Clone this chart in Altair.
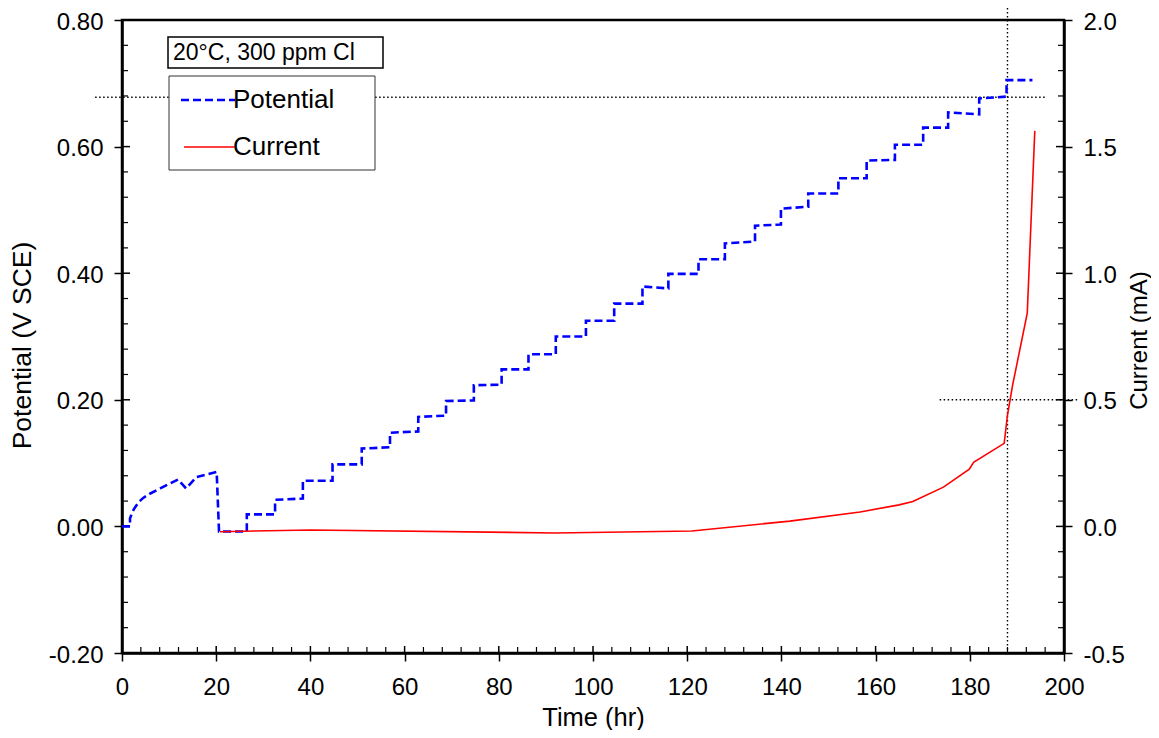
import altair as alt
import pandas as pd

# ---------------- data ----------------
# Potential (V SCE): initial free-corrosion curve, then stepwise ramp
pot_t0 = [0.0, 1.7, 1.7, 2.5, 3.5, 4.5, 6.0, 8.1, 10.0, 11.9, 13.6, 15.8, 18.0, 20.1, 20.6]
pot_v0 = [0.0, 0.0, 0.013, 0.027, 0.038, 0.045, 0.052, 0.060, 0.067, 0.074, 0.060, 0.078, 0.082, 0.086, -0.008]

step_t = [20.6, 26.5, 32.5, 38.4, 44.7, 50.9, 56.9, 62.9, 68.8, 74.7, 80.6, 86.3, 92.1, 98.5,
          104.5, 110.5, 116.0, 122.4, 128.0, 134.4, 139.9, 145.7, 152.1, 158.1, 164.1,
          170.1, 175.4, 182.0, 187.8]
step_end_t = step_t[1:] + [193.3]
step_lvl_start = [-0.008, 0.019, 0.042, 0.072, 0.098, 0.123, 0.148, 0.173, 0.198, 0.223, 0.248,
                  0.272, 0.300, 0.325, 0.352, 0.379, 0.399, 0.422, 0.447, 0.475, 0.502, 0.526,
                  0.550, 0.578, 0.603, 0.630, 0.654, 0.676, 0.705]
step_lvl_end = [-0.008, 0.019, 0.044, 0.072, 0.098, 0.125, 0.150, 0.175, 0.199, 0.224, 0.248,
                0.272, 0.300, 0.325, 0.352, 0.376, 0.399, 0.422, 0.450, 0.477, 0.505, 0.526,
                0.550, 0.579, 0.603, 0.630, 0.651, 0.679, 0.705]

# Current (mA)
cur_t = [20.8, 40.0, 92.0, 121.0, 141.8, 156.7, 165.0, 167.9, 174.4, 179.9, 180.8, 187.3,
         188.0, 189.1, 192.2, 193.8]
cur_v = [-0.021, -0.014, -0.026, -0.018, 0.021, 0.057, 0.085, 0.098, 0.155, 0.226, 0.253,
         0.328, 0.44, 0.559, 0.842, 1.562]

# reference (dotted) lines
hline_pot = 0.678
hline_pot_t = [-5.7, 196.0]
vline_t = 188.0
vline_pot = [0.819, -0.2]
hline_cur = 0.5
hline_cur_t = [173.6, 203.0]

# axis ticks
x_major = [0, 20, 40, 60, 80, 100, 120, 140, 160, 180, 200]
x_minor = [4, 8, 12, 16, 24, 28, 32, 36, 44, 48, 52, 56, 64, 68, 72, 76, 84, 88, 92, 96,
           104, 108, 112, 116, 124, 128, 132, 136, 144, 148, 152, 156, 164, 168, 172, 176,
           184, 188, 192, 196]
yl_major = [-0.2, 0.0, 0.2, 0.4, 0.6, 0.8]
yl_minor = [-0.16, -0.12, -0.08, -0.04, 0.04, 0.08, 0.12, 0.16, 0.24, 0.28, 0.32, 0.36,
            0.44, 0.48, 0.52, 0.56, 0.64, 0.68, 0.72, 0.76]
yr_major = [-0.5, 0.0, 0.5, 1.0, 1.5, 2.0]
yr_minor = [-0.4, -0.3, -0.2, -0.1, 0.1, 0.2, 0.3, 0.4, 0.6, 0.7, 0.8, 0.9, 1.1, 1.2, 1.3,
            1.4, 1.6, 1.7, 1.8, 1.9]

condition_text = "20°C, 300 ppm Cl"
legend_labels = ["Potential", "Current"]

# ---------------- build tables ----------------
pt, pv = list(pot_t0), list(pot_v0)
for t0, t1, a, b in zip(step_t, step_end_t, step_lvl_start, step_lvl_end):
    pt += [t0, t1]
    pv += [a, b]
pot_df = pd.DataFrame({"t": pt, "v": pv, "i": range(len(pt))})
cur_df = pd.DataFrame({"t": cur_t, "c": cur_v, "i": range(len(cur_t))})

W, H = 942, 633
FONT = "Liberation Sans"

xs = alt.Scale(domain=[0, 200], nice=False, zero=False)
yls = alt.Scale(domain=[-0.2, 0.8], nice=False, zero=False)
yrs = alt.Scale(domain=[-0.5, 2.0], nice=False, zero=False)

x_axis = alt.Axis(values=x_major, format="d", title="Time (hr)", labelPadding=14,
                  titlePadding=6, titleFontSize=25.5)
yl_axis = alt.Axis(values=yl_major, title="Potential (V SCE)", labelPadding=11,
                   titlePadding=12, titleFontSize=26.5, titleY=325, labelOffset=2,
                   labelExpr="datum.value < 0 ? '-' + format(-datum.value, '.2f') : format(datum.value, '.2f')")
yr_axis = alt.Axis(values=yr_major, orient="right", title="Current (mA)", labelPadding=11,
                   titleAngle=270, titleBaseline="top", titlePadding=3, titleFontSize=24,
                   titleY=320, labelOffset=2,
                   labelExpr="datum.value < 0 ? '-' + format(-datum.value, '.1f') : format(datum.value, '.1f')")

# ---------------- left (potential) group ----------------
pot_line = alt.Chart(pot_df).mark_line(color="#0000ff", strokeWidth=2.6, strokeDash=[8, 4]).encode(
    x=alt.X("t:Q", scale=xs, axis=x_axis),
    y=alt.Y("v:Q", scale=yls, axis=yl_axis),
    order="i:Q",
)

hl_df = pd.DataFrame({"t": [hline_pot_t[0]], "t2": [hline_pot_t[1]], "v": [hline_pot]})
hl = alt.Chart(hl_df).mark_rule(color="black", strokeWidth=1.4, strokeDash=[1.5, 2.5]).encode(
    x=alt.X("t:Q", scale=xs), x2="t2:Q", y=alt.Y("v:Q", scale=yls))

vl_df = pd.DataFrame({"t": [vline_t], "v": [vline_pot[0]], "v2": [vline_pot[1]]})
vl = alt.Chart(vl_df).mark_rule(color="black", strokeWidth=1.4, strokeDash=[1.5, 2.5]).encode(
    x=alt.X("t:Q", scale=xs), y=alt.Y("v:Q", scale=yls), y2="v2:Q")

tick_l_major = alt.Chart(pd.DataFrame({"v": yl_major})).mark_rule(color="black", strokeWidth=1.5).encode(
    y=alt.Y("v:Q", scale=yls), x=alt.value(0), x2=alt.value(8))
tick_l_minor = alt.Chart(pd.DataFrame({"v": yl_minor})).mark_rule(color="black", strokeWidth=1.2).encode(
    y=alt.Y("v:Q", scale=yls), x=alt.value(0), x2=alt.value(6))
tick_x_major = alt.Chart(pd.DataFrame({"t": x_major})).mark_rule(color="black", strokeWidth=1.5).encode(
    x=alt.X("t:Q", scale=xs), y=alt.value(H), y2=alt.value(H - 7))
tick_x_minor = alt.Chart(pd.DataFrame({"t": x_minor})).mark_rule(color="black", strokeWidth=1.2).encode(
    x=alt.X("t:Q", scale=xs), y=alt.value(H), y2=alt.value(H - 6))

# legend / condition boxes (annotation)
one = pd.DataFrame({"a": [0]})
cond_box = alt.Chart(one).mark_rect(fill="white", stroke="black", strokeWidth=1.5).encode(
    x=alt.value(46), x2=alt.value(261), y=alt.value(17), y2=alt.value(48))
cond_txt = alt.Chart(one).mark_text(text=condition_text, align="left", baseline="middle",
                                    font=FONT, fontSize=23, color="black").encode(
    x=alt.value(51), y=alt.value(33))
leg_box = alt.Chart(one).mark_rect(fill="white", stroke="#333333", strokeWidth=1).encode(
    x=alt.value(47), x2=alt.value(253), y=alt.value(56), y2=alt.value(150))
leg_pot = alt.Chart(one).mark_rule(color="#0000ff", strokeWidth=2.6, strokeDash=[8, 4]).encode(
    x=alt.value(59), x2=alt.value(113), y=alt.value(80))
leg_cur = alt.Chart(one).mark_rule(color="#ff0000", strokeWidth=1.6).encode(
    x=alt.value(62), x2=alt.value(114), y=alt.value(127))
leg_txt = alt.Chart(pd.DataFrame({"lab": legend_labels, "yy": [80, 127]})).mark_text(
    align="left", baseline="middle", font=FONT, fontSize=26, color="black").encode(
    text="lab:N", x=alt.value(111), y=alt.Y("yy:Q", scale=None))

left = alt.layer(hl, vl, tick_l_major, tick_l_minor, tick_x_major, tick_x_minor, pot_line,
                 cond_box, cond_txt, leg_box, leg_pot, leg_cur, leg_txt)

# ---------------- right (current) group ----------------
cur_line = alt.Chart(cur_df).mark_line(color="#ff0000", strokeWidth=1.6).encode(
    x=alt.X("t:Q", scale=xs),
    y=alt.Y("c:Q", scale=yrs, axis=yr_axis),
    order="i:Q",
)
hc_df = pd.DataFrame({"t": [hline_cur_t[0]], "t2": [hline_cur_t[1]], "c": [hline_cur]})
hc = alt.Chart(hc_df).mark_rule(color="black", strokeWidth=1.4, strokeDash=[1.5, 2.5]).encode(
    x=alt.X("t:Q", scale=xs), x2="t2:Q", y=alt.Y("c:Q", scale=yrs))
tick_r_major = alt.Chart(pd.DataFrame({"c": yr_major})).mark_rule(color="black", strokeWidth=1.5).encode(
    y=alt.Y("c:Q", scale=yrs), x=alt.value(W - 8), x2=alt.value(W))
tick_r_minor = alt.Chart(pd.DataFrame({"c": yr_minor})).mark_rule(color="black", strokeWidth=1.2).encode(
    y=alt.Y("c:Q", scale=yrs), x=alt.value(W - 6), x2=alt.value(W))

right = alt.layer(hc, tick_r_major, tick_r_minor, cur_line)

chart = alt.layer(left, right).resolve_scale(y="independent").properties(
    width=W, height=H,
    background="white",
    padding={"left": 114, "top": 12, "right": 87, "bottom": 77},
    autosize=alt.AutoSizeParams(type="none"),
).configure_view(
    stroke="black", strokeWidth=2.5
).configure_axis(
    grid=False,
    labelFont=FONT, labelFontSize=24, labelColor="black",
    titleFont=FONT, titleFontSize=25, titleFontWeight="normal", titleColor="black",
    domainColor="black", domainWidth=2.5,
    tickColor="black", tickWidth=1.5, tickSize=8,
    labelFlush=False, labelOverlap=False,
)

chart.save("out.html", embed_options={"renderer": "svg", "actions": False})
